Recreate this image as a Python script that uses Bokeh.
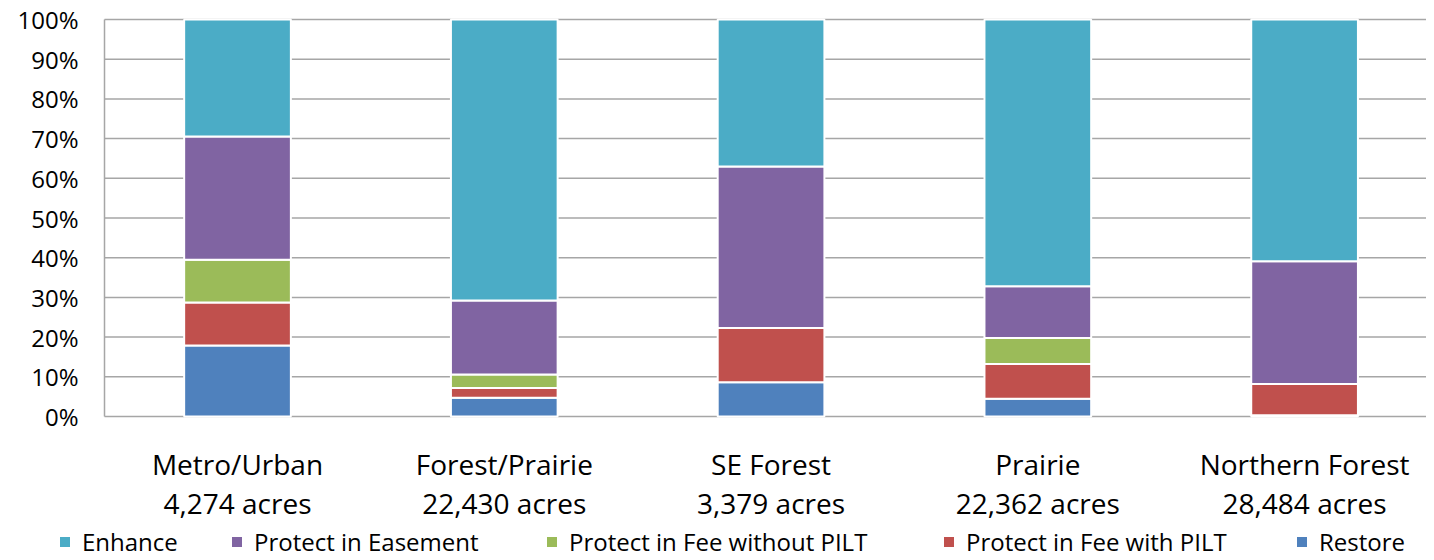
from bokeh.plotting import figure
from bokeh.models import Legend, LegendItem, Range1d, ColumnDataSource
from bokeh.core.properties import value
from bokeh.embed import file_html
from bokeh.resources import INLINE

categories = ["Metro/Urban", "Forest/Prairie", "SE Forest", "Prairie", "Northern Forest"]
acres = ["4,274 acres", "22,430 acres", "3,379 acres", "22,362 acres", "28,484 acres"]
series = ["Restore", "Protect in Fee with PILT", "Protect in Fee without PILT", "Protect in Easement", "Enhance"]
restore = [17.9, 4.7, 8.6, 4.5, 0.3]
fee_pilt = [10.8, 2.5, 13.7, 8.7, 7.9]
fee_no_pilt = [10.8, 3.4, 0.0, 6.6, 0.0]
easement = [31.0, 18.6, 40.7, 13.0, 30.9]
enhance = [29.5, 70.8, 37.0, 67.2, 60.9]
colors = ["#4F81BD", "#C0504D", "#9BBB59", "#8064A2", "#4BACC6"]
y_ticks = [0, 10, 20, 30, 40, 50, 60, 70, 80, 90, 100]
y_tick_labels = [f"{t}%" for t in y_ticks]

FONT = "Open Sans"
GRID = "#a6a6a6"
xs = list(range(len(categories)))
data = dict(x=xs, s0=restore, s1=fee_pilt, s2=fee_no_pilt, s3=easement, s4=enhance)

W, H = 1426, 558
TOP_PX = 19                 # distance from canvas top to the 100% line
AXIS_LEFT_PX = 104          # where the value axis sits
PX_PER_CAT = 266.75
X_AXIS = -0.4986            # category-scale position of the value axis
X_END = 4.457
PX_PER_PCT = 3.97
x_start = X_AXIS - AXIS_LEFT_PX / PX_PER_CAT
y_end = 100 + TOP_PX / PX_PER_PCT
y_start = 100 - (H - TOP_PX) / PX_PER_PCT

p = figure(width=W, height=H, output_backend="svg", toolbar_location=None,
           x_range=Range1d(x_start, X_END), y_range=Range1d(y_start, y_end),
           min_border_left=0, min_border_right=0, min_border_top=0, min_border_bottom=0)
p.axis.visible = False
p.grid.grid_line_color = None
p.outline_line_color = None
p.background_fill_color = "white"
p.border_fill_color = "white"

# value gridlines and axis line
p.segment(x0=X_AXIS, x1=X_END, y0=y_ticks, y1=y_ticks, line_color=GRID, line_width=1.5)
p.segment(x0=X_AXIS, x1=X_AXIS, y0=0, y1=100, line_color=GRID, line_width=1.5)

rs = p.vbar_stack(["s0", "s1", "s2", "s3", "s4"], x="x", width=0.4, source=data,
                  fill_color=colors, line_color="white", line_width=2)

# value tick labels
ticks_src = ColumnDataSource(dict(y=y_ticks, t=y_tick_labels))
p.text(x=X_AXIS, y="y", text="t", source=ticks_src, x_offset=-26,
       text_align="right", text_baseline="middle",
       text_font=value(FONT), text_font_size="24px", text_color="black")

# category labels (two lines)
lab = ColumnDataSource(dict(x=xs, cat=categories, acres=acres))
p.text(x="x", y=0, text="cat", source=lab, y_offset=47, text_align="center", text_baseline="middle",
       text_font=value(FONT), text_font_size="28px", text_color="black")
p.text(x="x", y=0, text="acres", source=lab, y_offset=86, text_align="center", text_baseline="middle",
       text_font=value(FONT), text_font_size="28px", text_color="black")

legend_x = [57, 229, 544, 941, 1294]
for pos, i in zip(legend_x, [4, 3, 2, 1, 0]):
    lg = Legend(items=[LegendItem(label=series[i], renderers=[rs[i]])],
                orientation="horizontal", location=(pos, 0),
                label_text_font=FONT, label_text_font_size="24px", label_text_color="black",
                glyph_width=15, glyph_height=15, label_standoff=10, label_height=15,
                border_line_color=None, background_fill_alpha=0, padding=0, margin=0)
    p.add_layout(lg, "center")

open("out.html", "w").write(file_html(p, INLINE))
